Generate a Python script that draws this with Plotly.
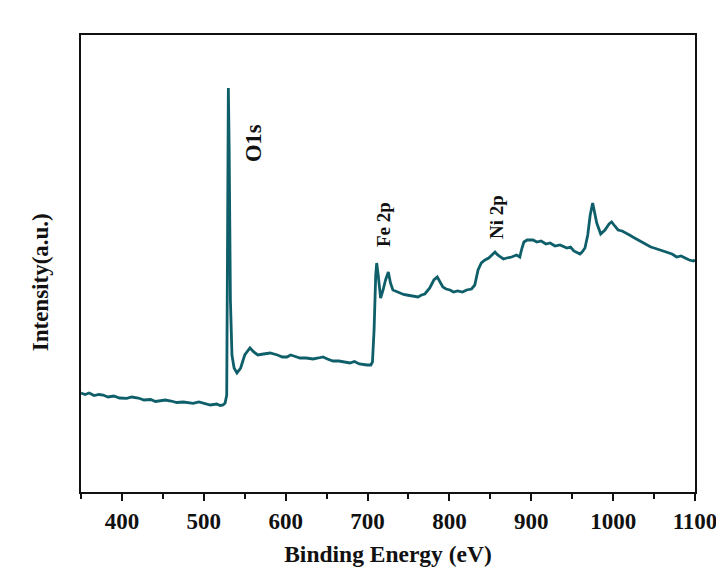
import plotly.graph_objects as go

energy = [350, 355, 360, 366, 372, 377, 383, 390, 397, 405.8, 412, 420, 427, 435, 441, 446.5, 453,
          460, 467, 475, 481, 487, 494, 500, 508, 515.7, 520, 523.5, 526, 528,
          529, 530, 531, 532.5, 534.4, 537, 540.5, 545, 550, 556.4, 561, 566, 573, 581, 590, 596,
          601.6, 606, 610, 617.5, 625, 633.4, 640, 645.6, 651, 657.8, 665, 672, 678.6, 684, 690,
          699.3, 704, 706, 708, 710,
          711.2, 713, 716, 719, 722, 725.4, 728, 731, 736, 740, 744, 747.8, 755, 761.6, 766, 770, 776, 781, 785.2,
          789, 792, 796, 800.7, 805, 810, 816, 821, 827, 831, 835, 839, 843.5, 848, 852, 855.7, 859, 862, 866, 870,
          876, 882, 886, 888, 891, 895, 902, 907, 912, 918, 923, 929, 935, 943.6, 948, 952, 959.5, 962, 965.6, 969, 972,
          975, 977, 980, 984.8, 990, 995, 998.2, 1002, 1006, 1011, 1016.5, 1020, 1024, 1030.7, 1036, 1041, 1046, 1050, 1057,
          1062, 1066, 1072, 1077.6, 1083, 1088, 1093, 1098, 1100]
intensity = [99, 97.5, 99, 96.5, 97.5, 97, 95, 96, 94, 93.7, 95, 94, 92, 92.5, 90.5, 91.3, 92,
             91, 89.5, 90, 89, 88.7, 90, 88.5, 87, 88, 86.5, 87, 89, 97,
             242, 404, 342, 192, 137, 124, 119, 124, 137, 144, 140, 137, 138, 139, 137, 135,
             135, 137, 136, 134, 134, 133, 134, 135, 133, 131, 131, 130, 129, 130.5, 128,
             127, 127, 130, 162, 217,
             229, 217, 194, 202, 212, 220, 209, 202, 200, 199, 197.5, 197, 196, 195, 197, 198, 204, 212, 215,
             210, 205, 203, 202, 200, 201, 200, 202, 203, 207, 222, 229, 232, 234, 237, 240, 237, 235, 233, 234,
             235, 237, 235, 242, 250, 252, 252, 250, 251, 248, 249, 246, 247, 244, 245, 241, 238, 240, 244, 257, 277,
             289, 282, 269, 258, 262, 268, 270, 266, 262, 261, 259, 257, 255, 252, 250, 247, 245, 244, 242,
             241, 240, 238, 235, 236, 234, 232, 231, 232]

peak_labels = ["O1s", "Fe 2p", "Ni 2p"]
peak_x = [560, 719, 857]
peak_y = [349, 267, 275]
peak_size = [22.5, 19, 19]

x_ticks = [400, 500, 600, 700, 800, 900, 1000, 1100]

font_family = "Liberation Serif, Times New Roman, serif"

fig = go.Figure()
fig.add_trace(go.Scatter(x=energy, y=intensity, mode="lines",
                         line=dict(color="#0f5f6a", width=2.8), showlegend=False))

for lbl, px, py, sz in zip(peak_labels, peak_x, peak_y, peak_size):
    fig.add_annotation(x=px, y=py, text="<b>%s</b>" % lbl, textangle=-90, showarrow=False,
                       xanchor="center", yanchor="middle",
                       font=dict(family=font_family, size=sz, color="#111"))

fig.add_annotation(xref="paper", yref="paper", x=-0.066, y=0.46, text="<b>Intensity(a.u.)</b>",
                   textangle=-90, showarrow=False, xanchor="center", yanchor="middle",
                   font=dict(family=font_family, size=23, color="#111"))

fig.update_layout(
    width=708, height=559,
    margin=dict(l=73, r=21, t=27, b=75),
    paper_bgcolor="white", plot_bgcolor="white",
    font=dict(family=font_family, color="#111"),
    xaxis=dict(range=[350, 1100], tickvals=x_ticks,
               ticktext=["<b>%d</b>" % v for v in x_ticks],
               ticks="outside", ticklen=7, tickwidth=2, tickcolor="#111",
               minor=dict(dtick=50, tick0=350, ticks="outside", ticklen=5, tickwidth=2, tickcolor="#111"),
               showline=True, linewidth=2, linecolor="#111", mirror=True,
               showgrid=False, zeroline=False, automargin=False,
               ticklabeloverflow="allow",
               tickfont=dict(family=font_family, size=23, color="#111"),
               title=dict(text="<b>Binding Energy (eV)</b>", standoff=20,
                          font=dict(family=font_family, size=23.5, color="#111"))),
    yaxis=dict(range=[0, 457], showticklabels=False, ticks="",
               showline=True, linewidth=2, linecolor="#111", mirror=True,
               showgrid=False, zeroline=False, automargin=False),
)

fig.write_html("out.html")
